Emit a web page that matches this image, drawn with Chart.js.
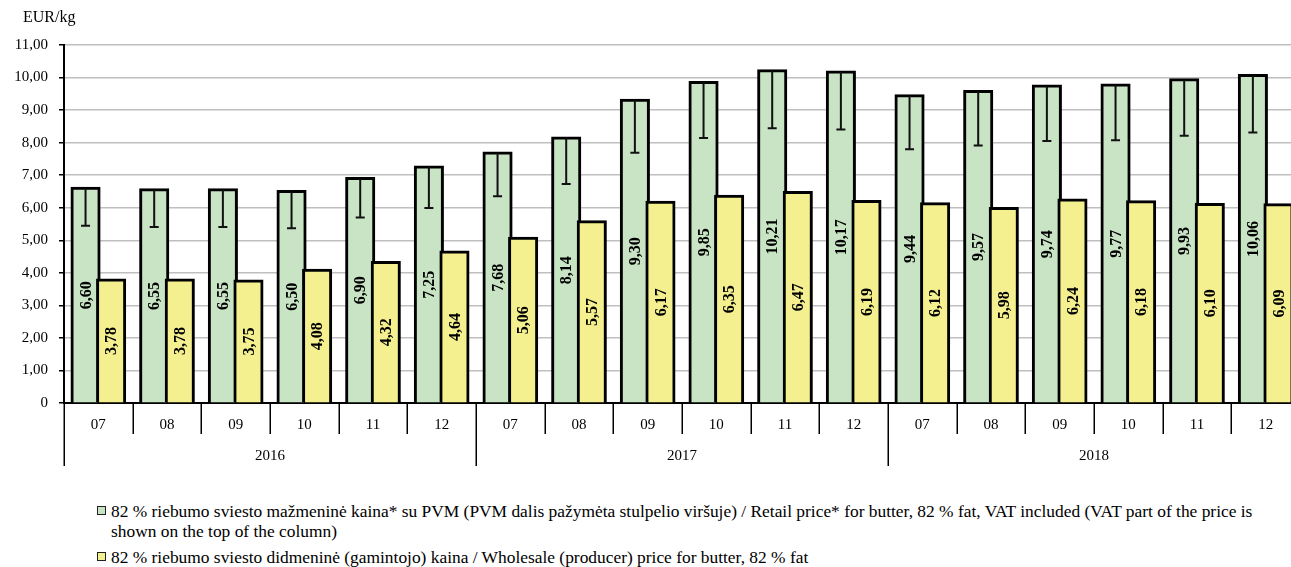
<!DOCTYPE html>
<html>
<head>
<meta charset="utf-8">
<script src="https://cdn.jsdelivr.net/npm/chart.js@4.4.1/dist/chart.umd.min.js"></script>
<style>
  html, body { margin: 0; padding: 0; background: #fff; overflow: hidden; }
  body { width: 1291px; height: 567px; position: relative; font-family: 'Liberation Serif', 'DejaVu Serif', serif; color: #000; }
  #wrap { position: absolute; left: 0; top: 0; width: 1310px; height: 480px; }
  #unit { position: absolute; left: 23px; top: 8px; font-size: 16px; z-index: 2; }
  #legend { position: absolute; left: 97px; top: 501px; width: 1190px; font-size: 17.4px; line-height: 20px; }
  .li { position: relative; padding-left: 14px; margin-bottom: 6px; }
  .sw { position: absolute; left: 0; top: 5px; width: 7px; height: 7px; border: 1.5px solid #222; }
</style>
</head>
<body>
<div id="unit">EUR/kg</div>
<div id="wrap"><canvas id="c" width="1310" height="480"></canvas></div>
<div id="legend">
  <div class="li"><span class="sw" style="background:#c8e4c4"></span>82 % riebumo sviesto mažmeninė kaina* su PVM (PVM dalis pažymėta stulpelio viršuje) / Retail price* for butter, 82 % fat, VAT included (VAT part of the price is shown on the top of the column)</div>
  <div class="li"><span class="sw" style="background:#f4ef8f"></span>82 % riebumo sviesto didmeninė (gamintojo) kaina / Wholesale (producer) price for butter, 82 % fat</div>
</div>
<script>
var months = ['07','08','09','10','11','12','07','08','09','10','11','12','07','08','09','10','11','12'];
var years = ['2016', '2017', '2018'];
var retail = [6.60, 6.55, 6.55, 6.50, 6.90, 7.25, 7.68, 8.14, 9.30, 9.85, 10.21, 10.17, 9.44, 9.57, 9.74, 9.77, 9.93, 10.06];
var wholesale = [3.78, 3.78, 3.75, 4.08, 4.32, 4.64, 5.06, 5.57, 6.17, 6.35, 6.47, 6.19, 6.12, 5.98, 6.24, 6.18, 6.10, 6.09];
// retail price without VAT (bottom of the VAT marker)
var retailNoVat = [5.45, 5.41, 5.41, 5.37, 5.70, 5.99, 6.35, 6.73, 7.69, 8.14, 8.44, 8.40, 7.80, 7.91, 8.05, 8.07, 8.21, 8.31];

var FONT = "'Liberation Serif', 'DejaVu Serif', serif";

function fmt(v) { return v.toFixed(2).replace('.', ','); }

// draw yellow after green so it overlaps the green bar
var orderPlugin = {
  id: 'orderFix',
  beforeDatasetDraw: function(chart, args) {
    if (args.index === 1 && !chart._drawingYellow) return false;
  },
  afterDatasetDraw: function(chart, args) {
    if (args.index === 0) {
      chart._drawingYellow = true;
      chart.getDatasetMeta(1).controller.draw();
      chart._drawingYellow = false;
    }
  }
};

var extrasPlugin = {
  id: 'extras',
  afterDatasetsDraw: function(chart) {
    var ctx = chart.ctx;
    var ys = chart.scales.y;
    var g = chart.getDatasetMeta(0).data;
    ctx.save();
    // VAT markers
    ctx.strokeStyle = '#111';
    ctx.lineWidth = 2;
    g.forEach(function(bar, i) {
      var top = ys.getPixelForValue(retail[i]);
      var bot = ys.getPixelForValue(retailNoVat[i]);
      ctx.beginPath();
      ctx.moveTo(bar.x, top);
      ctx.lineTo(bar.x, bot);
      ctx.moveTo(bar.x - 4.5, bot);
      ctx.lineTo(bar.x + 4.5, bot);
      ctx.stroke();
    });
    // value labels
    ctx.fillStyle = '#000';
    ctx.font = 'bold 16px ' + FONT;
    ctx.textAlign = 'center';
    ctx.textBaseline = 'middle';
    [0, 1].forEach(function(d) {
      var vals = d === 0 ? retail : wholesale;
      chart.getDatasetMeta(d).data.forEach(function(bar, i) {
        ctx.save();
        ctx.translate(bar.x, (bar.y + bar.base) / 2);
        ctx.rotate(-Math.PI / 2);
        ctx.fillText(fmt(vals[i]), 0, 1);
        ctx.restore();
      });
    });
    ctx.restore();
  },
  afterDraw: function(chart) {
    var ctx = chart.ctx;
    var xs = chart.scales.x;
    var y0 = chart.chartArea.bottom;
    var half = (xs.getPixelForValue(1) - xs.getPixelForValue(0)) / 2;
    ctx.save();
    ctx.strokeStyle = '#000';
    ctx.lineWidth = 1.5;
    for (var i = 0; i <= months.length; i++) {
      var x = i < months.length ? xs.getPixelForValue(i) - half : xs.getPixelForValue(i - 1) + half;
      x = Math.round(x) + 0.25;
      ctx.beginPath();
      ctx.moveTo(x, y0);
      ctx.lineTo(x, y0 + (i % 6 === 0 ? 63 : 31));
      ctx.stroke();
    }
    ctx.fillStyle = '#000';
    ctx.font = '15px ' + FONT;
    ctx.textAlign = 'center';
    ctx.textBaseline = 'middle';
    years.forEach(function(yr, k) {
      var xm = (xs.getPixelForValue(k * 6) - half + xs.getPixelForValue(k * 6 + 5) + half) / 2;
      ctx.fillText(yr, xm, y0 + 53);
    });
    ctx.restore();
  }
};

new Chart(document.getElementById('c'), {
  type: 'bar',
  data: {
    labels: months,
    datasets: [
      { label: 'Retail', data: retail, backgroundColor: '#c8e4c4', borderColor: '#000', borderWidth: 3,
        inflateAmount: 1.5, categoryPercentage: 0.745, barPercentage: 1.06 },
      { label: 'Wholesale', data: wholesale, backgroundColor: '#f4ef8f', borderColor: '#000', borderWidth: 3,
        inflateAmount: 1.5, categoryPercentage: 0.745, barPercentage: 1.06 }
    ]
  },
  options: {
    responsive: false,
    animation: false,
    layout: { padding: { top: 45, right: 10, left: 0, bottom: 0 } },
    plugins: { legend: { display: false }, tooltip: { enabled: false } },
    scales: {
      x: {
        grid: { display: false },
        border: { display: true, color: '#000', width: 2 },
        ticks: { color: '#000', font: { family: FONT, size: 15 }, padding: 5, maxRotation: 0, autoSkip: false },
        afterFit: function(s) { s.height = 77; }
      },
      y: {
        min: 0, max: 11,
        grid: { color: '#bfbfbf', lineWidth: 1.5, tickColor: '#000', tickLength: 5 },
        border: { display: true, color: '#000', width: 2 },
        ticks: { stepSize: 1, color: '#000', padding: 11, font: { family: FONT, size: 15 },
                 callback: function(v) { return v === 0 ? '0' : fmt(v); } },
        afterFit: function(s) { s.width = 64; }
      }
    }
  },
  plugins: [orderPlugin, extrasPlugin]
});
</script>
</body>
</html>
